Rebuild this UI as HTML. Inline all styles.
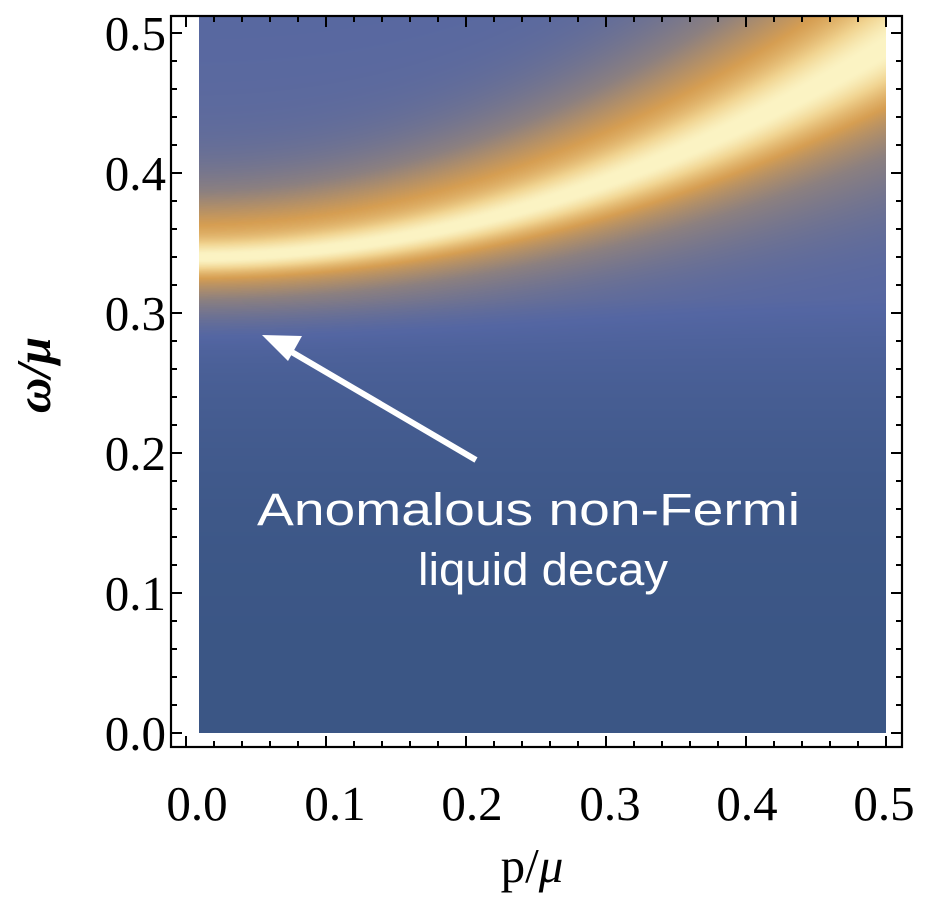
<!DOCTYPE html>
<html><head><meta charset="utf-8"><style>
html,body{margin:0;padding:0;background:#fff;}
#wrap{position:relative;width:926px;height:907px;overflow:hidden;}
canvas{position:absolute;left:199px;top:17px;}
svg{position:absolute;left:0;top:0;}
</style></head><body><div id="wrap">
<canvas id="c" width="687" height="716"></canvas>
<svg width="926" height="907" xmlns="http://www.w3.org/2000/svg">
<g id="ticks" stroke="#000" stroke-width="2"></g>
<rect x="171" y="16" width="731" height="731" fill="none" stroke="#000" stroke-width="2.2"/>
<g font-family="Liberation Serif, serif" font-size="49" fill="#000">
<text x="166" y="50" text-anchor="end">0.5</text>
<text x="166" y="190" text-anchor="end">0.4</text>
<text x="166" y="330" text-anchor="end">0.3</text>
<text x="166" y="470" text-anchor="end">0.2</text>
<text x="166" y="610" text-anchor="end">0.1</text>
<text x="166" y="750" text-anchor="end">0.0</text>
<text x="197" y="820" text-anchor="middle">0.0</text>
<text x="335" y="820" text-anchor="middle">0.1</text>
<text x="472" y="820" text-anchor="middle">0.2</text>
<text x="610" y="820" text-anchor="middle">0.3</text>
<text x="747" y="820" text-anchor="middle">0.4</text>
<text x="884" y="820" text-anchor="middle">0.5</text>
<text x="532" y="882" text-anchor="middle">p/<tspan font-style="italic">μ</tspan></text>
<text transform="translate(50,375) rotate(-90)" text-anchor="middle" font-style="italic" font-weight="bold">ω/μ</text>
</g>
<line x1="476" y1="460" x2="290" y2="351" stroke="#fff" stroke-width="6"/>
<polygon points="262,335 302,336 288,361" fill="#fff"/>
<g font-family="Liberation Sans, sans-serif" font-size="45" fill="#fff">
<text x="257" y="525" textLength="543" lengthAdjust="spacingAndGlyphs">Anomalous non-Fermi</text>
<text x="418" y="585" textLength="250" lengthAdjust="spacingAndGlyphs">liquid decay</text>
</g>
</svg>
</div>
<script>
(function(){
var g=document.getElementById('ticks'),s='';
for(var i=0;i<=25;i++){var x=186+i*28,L=(i%5==0)?11:6;
 if(x>171&&x<902){s+='<line x1="'+x+'" y1="747" x2="'+x+'" y2="'+(747-L)+'"/>';s+='<line x1="'+x+'" y1="16" x2="'+x+'" y2="'+(16+L)+'"/>';}}
for(var j=0;j<=26;j++){var y=733-j*28,L=(j%5==0)?11:6;
 if(y>16&&y<747){s+='<line x1="171" y1="'+y+'" x2="'+(171+L)+'" y2="'+y+'"/>';s+='<line x1="902" y1="'+y+'" x2="'+(902-L)+'" y2="'+y+'"/>';}}
g.innerHTML=s;
var c=document.getElementById('c'),ctx=c.getContext('2d'),W=c.width,H=c.height;
var img=ctx.createImageData(W,H),d=img.data;
var stops=[[0,[59,86,133]],[0.2,[84,102,163]],[0.45,[140,128,128]],[0.65,[214,158,82]],[0.85,[241,212,145]],[1,[251,243,195]]];
function cm(t){t=Math.max(0,Math.min(1,t));for(var k=1;k<stops.length;k++){if(t<=stops[k][0]){var a=stops[k-1],b=stops[k],f=(t-a[0])/(b[0]-a[0]);return [a[1][0]+f*(b[1][0]-a[1][0]),a[1][1]+f*(b[1][1]-a[1][1]),a[1][2]+f*(b[1][2]-a[1][2])];}}return stops[5][1];}
for(var py=0;py<H;py++){var w=(733-(py+17))/1400;
 for(var px=0;px<W;px++){var p=(px+199-186)/1400;
  var w0=0.34+0.6*p*p,dd=w-w0;
  var s1=0.007+0.06*p*p,s2=0.026+0.16*p*p;
  if(dd>0){s1*=1.1;s2*=1.3;}
  var g1=Math.exp(-dd*dd/(2*s1*s1)),g2=Math.exp(-dd*dd/(2*s2*s2));
  var pk=0.4*g1+0.62*g2;
  var base;
  if(dd>0)base=0.2+0.12/(1+Math.pow(dd/0.07,2));else{var q=Math.max(0,w/0.31);base=0.2*Math.min(1,q*q*q);}
  var t=pk+base*(1-pk);
  var col=cm(t),i=(py*W+px)*4;d[i]=col[0];d[i+1]=col[1];d[i+2]=col[2];d[i+3]=255;}}
ctx.putImageData(img,0,0);
})();
</script>
</body></html>
